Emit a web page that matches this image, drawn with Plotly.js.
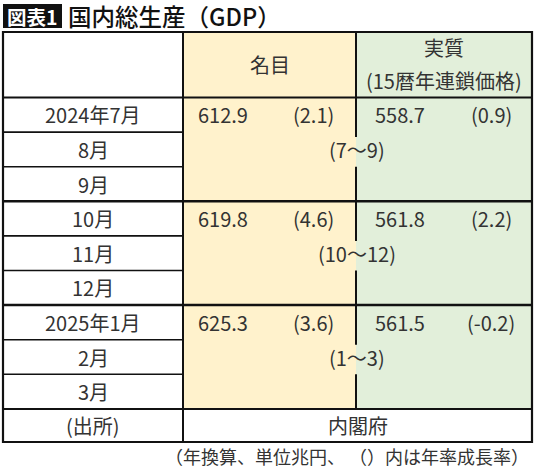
<!DOCTYPE html>
<html>
<head>
<meta charset="utf-8">
<script src="https://cdn.plot.ly/plotly-3.0.1.min.js"></script>
<style>
  html, body { margin: 0; padding: 0; background: #fff; }
  #chart { width: 540px; height: 469px; }
</style>
</head>
<body>
<div id="chart"></div>
<script>
// --- data ---
const months = ['2024年7月', '8月', '9月', '10月', '11月', '12月', '2025年1月', '2月', '3月'];
const periods = ['(7〜9)', '(10〜12)', '(1〜3)'];
const nominal = [612.9, 619.8, 625.3];
const nominalRate = [2.1, 4.6, 3.6];
const real = [558.7, 561.8, 561.5];
const realRate = [0.9, 2.2, -0.2];
const headNominal = '名目';
const headReal = ['実質', '(15暦年連鎖価格)'];
const sourceRow = ['(出所)', '内閣府'];
const titleTag = '図表1';
const titleText = '国内総生産（GDP）';
const noteText = '（年換算、単位兆円、 （）内は年率成長率）';

// --- layout geometry (pixels, the axes are 1:1 with the page) ---
const X0 = 3, XL = 183, XM = 356, X1 = 532;
const Y0 = 32, YH = 97.5, RH = 34.6;
const YB = YH + months.length * RH;
const YF = 442;
const FONT = 'Noto Sans CJK JP, Noto Sans, sans-serif';
const TXT = '#333';

const shapes = [];
const annotations = [];

function line(x0, y0, x1, y1, w) {
    shapes.push({ type: 'line', xref: 'x', yref: 'y', x0, y0, x1, y1, line: { color: '#111', width: w } });
}
function label(text, x, y, anchor, size, extra) {
    annotations.push(Object.assign({
        text, x, y, xref: 'x', yref: 'y', xanchor: anchor || 'center', yanchor: 'middle',
        showarrow: false, font: { family: FONT, size: size || 20, color: TXT }
    }, extra || {}));
}

// cell fills
shapes.push({ type: 'rect', xref: 'x', yref: 'y', x0: XL, x1: XM, y0: Y0, y1: YB, fillcolor: '#FFF2CC', line: { width: 0 }, layer: 'below' });
shapes.push({ type: 'rect', xref: 'x', yref: 'y', x0: XM, x1: X1, y0: Y0, y1: YB, fillcolor: '#E2EFDA', line: { width: 0 }, layer: 'below' });

// row lines
line(X0, YH, X1, YH, 2);
months.forEach((m, i) => {
    if (i === 0) return;
    const y = YH + i * RH;
    if (i % 3 === 0) line(X0, y, X1, y, 2.5);
    else line(X0, y, XL, y, 1.6);
});
line(X0, YB, X1, YB, 2);

// column lines (the 名目/実質 divider is broken where the period label sits)
line(XL, Y0, XL, YF, 2);
line(XM, Y0, XM, YH, 2);
periods.forEach((p, g) => {
    const top = YH + g * 3 * RH;
    line(XM, top, XM, top + RH + 5, 2);
    line(XM, top + 2 * RH, XM, top + 3 * RH, 2);
});

// outer border
shapes.push({ type: 'rect', xref: 'x', yref: 'y', x0: X0, x1: X1, y0: Y0, y1: YF, line: { color: '#111', width: 2.2 } });

// title
shapes.push({ type: 'rect', xref: 'x', yref: 'y', x0: 3, x1: 62, y0: 4, y1: 28, fillcolor: '#111', line: { width: 0 } });
annotations.push({ text: '<b>' + titleTag + '</b>', x: 32.5, y: 16, xref: 'x', yref: 'y', showarrow: false,
    xanchor: 'center', yanchor: 'middle', font: { family: FONT, size: 19.5, color: '#fff' } });
annotations.push({ text: titleText, x: 66, y: 16, xref: 'x', yref: 'y', showarrow: false,
    xanchor: 'left', yanchor: 'middle', font: { family: FONT, size: 23.5, color: '#111', weight: 500 } });

// header
label(headNominal, (XL + XM) / 2, (Y0 + YH) / 2);
label(headReal[0], (XM + X1) / 2, 47);
label(headReal[1], (XM + X1) / 2, 80);

// body
months.forEach((m, i) => label(m, (X0 + XL) / 2, YH + (i + 0.5) * RH));
periods.forEach((p, g) => {
    const yTop = YH + (g * 3 + 0.5) * RH;
    label(nominal[g].toFixed(1), 196, yTop, 'left');
    label('(' + nominalRate[g].toFixed(1) + ')', 313, yTop);
    label(real[g].toFixed(1), 373, yTop, 'left');
    label('(' + realRate[g].toFixed(1) + ')', 491, yTop);
    label(p, XM + 1, yTop + RH);
});

// source row and note
label(sourceRow[0], (X0 + XL) / 2, (YB + YF) / 2);
label(sourceRow[1], (XL + X1) / 2, (YB + YF) / 2);
label(noteText, 531, 456, 'right', 18);

const layout = {
    width: 540, height: 469,
    margin: { l: 0, r: 0, t: 0, b: 0 },
    paper_bgcolor: '#fff', plot_bgcolor: '#fff',
    xaxis: { range: [0, 540], visible: false, fixedrange: true },
    yaxis: { range: [469, 0], visible: false, fixedrange: true },
    shapes, annotations,
    showlegend: false
};

Plotly.newPlot('chart', [{ x: [], y: [], type: 'scatter', hoverinfo: 'none' }], layout, { staticPlot: true, displayModeBar: false });
</script>
</body>
</html>
